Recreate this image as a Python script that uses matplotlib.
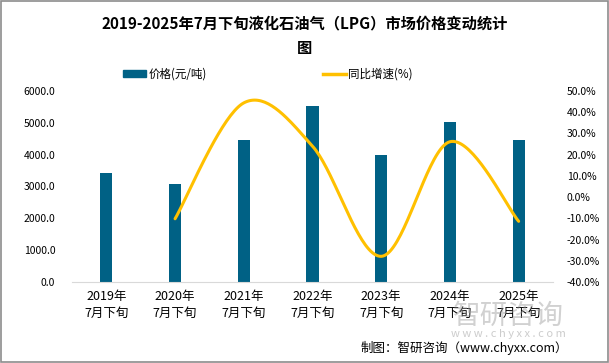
import numpy as np
import matplotlib
matplotlib.use("Agg")
import matplotlib.pyplot as plt
from matplotlib.patches import Rectangle
from matplotlib.lines import Line2D
from matplotlib.ticker import FuncFormatter

plt.rcParams['font.family'] = ['Noto Sans CJK SC', 'DejaVu Sans']

categories = ["2019年\n7月下旬", "2020年\n7月下旬", "2021年\n7月下旬", "2022年\n7月下旬",
              "2023年\n7月下旬", "2024年\n7月下旬", "2025年\n7月下旬"]
price = [3420, 3070, 4450, 5520, 3980, 5020, 4450]
growth = [None, -10.2, 44.4, 24.0, -27.9, 26.1, -11.4]

bar_color = "#006185"
line_color = "#FFC000"


# smooth curve like Excel's "smoothed line" (Catmull-Rom through the points)
def smooth(xs, ys, n=40):
    px = [xs[0]] + list(xs) + [xs[-1]]
    py = [ys[0]] + list(ys) + [ys[-1]]
    outx, outy = [], []
    for i in range(1, len(px) - 2):
        t = np.linspace(0, 1, n)
        for p, out in ((px, outx), (py, outy)):
            p0, p1, p2, p3 = p[i - 1], p[i], p[i + 1], p[i + 2]
            c1 = p1 + (p2 - p0) / 6
            c2 = p2 - (p3 - p1) / 6
            out.extend((1 - t) ** 3 * p1 + 3 * (1 - t) ** 2 * t * c1
                       + 3 * (1 - t) * t ** 2 * c2 + t ** 3 * p2)
    return outx, outy


fig = plt.figure(figsize=(6.09, 3.63), dpi=100)
fig.patches.append(Rectangle((0.001, 0.002), 0.997, 0.996, transform=fig.transFigure,
                             fill=False, edgecolor="#8c8c8c", linewidth=1.2))

ax = fig.add_axes([72 / 609, 1 - 282 / 363, (553 - 72) / 609, (282 - 91) / 363])
x = np.arange(len(categories))
ax.bar(x, price, width=0.175, color=bar_color, zorder=2)
ax.set_xlim(-0.5, len(categories) - 0.5)
ax.set_ylim(0, 6000)
ax.set_yticks(np.arange(0, 6001, 1000))
ax.yaxis.set_major_formatter(FuncFormatter(lambda v, p: "%.1f" % v))
ax.set_xticks(x)
ax.set_xticklabels(categories, fontsize=9, linespacing=1.35)
ax.tick_params(axis="y", length=0, pad=12, labelsize=7.5)
ax.tick_params(axis="x", length=0, pad=6)
for s in ["top", "left", "right"]:
    ax.spines[s].set_visible(False)
ax.spines["bottom"].set_color("#d9d9d9")

ax2 = ax.twinx()
gx = [i for i, g in enumerate(growth) if g is not None]
gy = [g for g in growth if g is not None]
sx, sy = smooth(gx, gy)
ax2.plot(sx, sy, color=line_color, linewidth=2.2, solid_capstyle="round", zorder=3)
ax2.set_ylim(-40, 50)
ax2.set_yticks(np.arange(-40, 51, 10))
ax2.yaxis.set_major_formatter(FuncFormatter(lambda v, p: "%.1f%%" % v))
ax2.tick_params(axis="y", length=0, pad=10, labelsize=7.5)
for s in ax2.spines.values():
    s.set_visible(False)

fig.text(0.5, 1 - 23 / 363, "2019-2025年7月下旬液化石油气（LPG）市场价格变动统计",
         ha="center", va="center", fontsize=11, fontweight="bold")
fig.text(0.5, 1 - 48 / 363, "图", ha="center", va="center", fontsize=11, fontweight="bold")

handles = [Rectangle((0, 0), 1, 1, color=bar_color),
           Line2D([0], [0], color=line_color, linewidth=2.5)]
fig.legend(handles, ["价格(元/吨)", "同比增速(%)"], loc="center",
           bbox_to_anchor=(0.44, 1 - 74 / 363), ncol=2, frameon=False,
           fontsize=8.3, handlelength=2.0, handleheight=0.6, columnspacing=10.1,
           handletextpad=0.2)

# watermark
fig.text(508 / 609, 1 - 316 / 363, "智研咨询", ha="center", va="center",
         fontsize=20, color="#9a9a9a", alpha=0.45)
fig.text(508 / 609, 1 - 334 / 363, "w w w . c h y x x . c o m", ha="center", va="center",
         fontsize=8, color="#9a9a9a", alpha=0.5)

fig.text(568 / 609, 1 - 348 / 363, "制图：智研咨询（www.chyxx.com）", ha="right",
         va="center", fontsize=9)

fig.savefig("out.png", dpi=100)
